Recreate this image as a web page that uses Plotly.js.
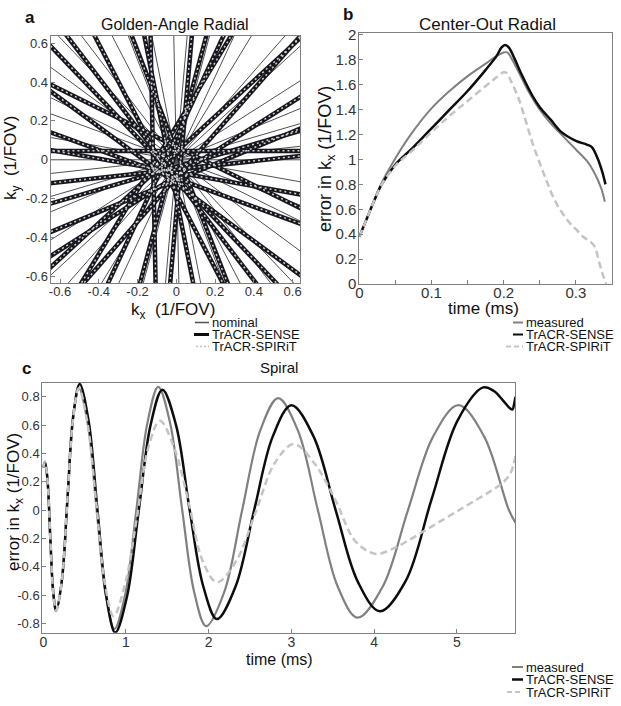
<!DOCTYPE html>
<html><head><meta charset="utf-8">
<script src="https://cdn.plot.ly/plotly-3.0.1.min.js"></script>
<style>html,body{margin:0;padding:0;background:#fff}#chart{width:621px;height:706px}</style>
</head><body><div id="chart"></div>
<script>
// ---------- Panel a: golden-angle radial spokes (readout angle in degrees, perpendicular offset of measured spoke in 1/FOV) ----------
const spokeAngleDeg = [0,111.25,222.49,333.74,84.98,196.23,307.48,58.72,169.97,281.21,32.46,143.71,254.95,6.20,117.44,228.69,339.94,91.18,202.43,313.67,64.92];
const senseOffset  = [0.045,-0.017,-0.030,0.060,-0.024,0.035,-0.060,0.090,0.064,-0.038,-0.070,0.100,-0.016,-0.050,0.080,0.060,-0.090,0.120,0.096,-0.065,0.050];
const spiritOffset = [0.046,-0.016,-0.030,0.061,-0.023,0.035,-0.059,0.089,0.064,-0.037,-0.069,0.099,-0.016,-0.049,0.079,0.060,-0.089,0.119,0.095,-0.064,0.050];
const kTicks = [-0.6,-0.4,-0.2,0,0.2,0.4,0.6];
const kTickText = ['-0.6','-0.4','-0.2','0','0.2','0.4','0.6'];

// ---------- Panel b: center-out radial ----------
const radialTimeMeasured = [0,0.01,0.02,0.03,0.05,0.07,0.1,0.125,0.15,0.175,0.19,0.2,0.205,0.21,0.22,0.235,0.25,0.265,0.28,0.3,0.315,0.325,0.335,0.34];
const radialMeasured =     [0.38,0.52,0.66,0.80,1.01,1.19,1.41,1.55,1.67,1.77,1.83,1.86,1.86,1.82,1.71,1.54,1.40,1.29,1.20,1.08,0.99,0.90,0.77,0.66];
const radialTimeSense = [0,0.01,0.02,0.03,0.05,0.075,0.1,0.125,0.15,0.175,0.19,0.197,0.202,0.207,0.215,0.225,0.24,0.25,0.265,0.28,0.3,0.315,0.322,0.33,0.336,0.341];
const radialSense =     [0.38,0.52,0.66,0.79,0.96,1.10,1.25,1.40,1.55,1.72,1.83,1.90,1.92,1.90,1.81,1.68,1.51,1.42,1.32,1.22,1.15,1.12,1.10,1.01,0.91,0.80];
const radialTimeSpirit = [0,0.01,0.02,0.03,0.05,0.075,0.1,0.125,0.15,0.175,0.19,0.2,0.205,0.21,0.22,0.23,0.24,0.25,0.26,0.27,0.28,0.29,0.3,0.31,0.32,0.326,0.332,0.337,0.342];
const radialSpirit =     [0.38,0.52,0.66,0.79,0.95,1.08,1.22,1.35,1.47,1.59,1.66,1.70,1.69,1.63,1.50,1.32,1.13,0.97,0.82,0.68,0.58,0.50,0.44,0.38,0.34,0.30,0.18,0.08,0.0];
const radialXTicks = [0,0.1,0.2,0.3];
const radialXTickText = ['0','0.1','0.2','0.3'];
const radialXMinor = [0.05,0.15,0.25,0.35];
const radialYTicks = [0,0.2,0.4,0.6,0.8,1,1.2,1.4,1.6,1.8,2];
const radialYTickText = ['0','0.2','0.4','0.6','0.8','1','1.2','1.4','1.6','1.8','2'];

// ---------- Panel c: spiral ----------
const spiralTimeMeasured = [0,0.02,0.05,0.085,0.12,0.155,0.224,0.2925,0.361,0.43,0.537,0.645,0.752,0.86,0.9925,1.125,1.2575,1.39,1.535,1.68,1.825,1.97,2.1875,2.405,2.6225,2.84,3.08,3.32,3.56,3.80,4.105,4.41,4.715,5.02,5.33,5.63,5.71];
const spiralMeasured =     [0.30,0.34,0.22,-0.20,-0.58,-0.71,-0.50,0.075,0.65,0.86,0.61,0.0,-0.59,-0.84,-0.59,0.0,0.61,0.87,0.61,0.0,-0.58,-0.82,-0.58,0.0,0.56,0.79,0.56,0.0,-0.54,-0.76,-0.54,0.0,0.52,0.74,0.52,0.0,-0.09];
const spiralTimeSense = [0,0.02,0.05,0.085,0.12,0.155,0.224,0.2925,0.361,0.44,0.5475,0.655,0.7625,0.87,1.0125,1.155,1.2975,1.44,1.605,1.77,1.935,2.1,2.325,2.55,2.775,3.0,3.2675,3.535,3.8025,4.07,4.3825,4.695,5.0075,5.32,5.45,5.55,5.64,5.675,5.69,5.71];
const spiralSense =     [0.30,0.34,0.22,-0.20,-0.58,-0.71,-0.50,0.08,0.66,0.89,0.63,0.0,-0.61,-0.865,-0.61,0.0,0.60,0.85,0.60,0.0,-0.54,-0.77,-0.54,0.0,0.52,0.74,0.52,0.0,-0.505,-0.715,-0.50,0.075,0.63,0.866,0.84,0.78,0.72,0.71,0.74,0.80];
const spiralTimeSpirit = [0,0.02,0.05,0.085,0.12,0.155,0.224,0.2925,0.361,0.43,0.535,0.64,0.745,0.85,0.99,1.13,1.27,1.41,1.5825,1.755,1.9275,2.1,2.3325,2.565,2.7975,3.03,3.2775,3.525,3.7725,4.02,4.2,4.4,4.6,4.8,5.0,5.2,5.4,5.55,5.65,5.71];
const spiralSpirit =     [0.30,0.34,0.22,-0.20,-0.58,-0.71,-0.50,0.08,0.65,0.86,0.61,0.05,-0.52,-0.75,-0.52,-0.06,0.44,0.63,0.44,0.06,-0.36,-0.51,-0.36,-0.02,0.33,0.466,0.33,0.08,-0.22,-0.31,-0.28,-0.22,-0.15,-0.08,-0.01,0.06,0.13,0.19,0.26,0.38];
const spiralXTicks = [0,1,2,3,4,5];
const spiralXTickText = ['0','1','2','3','4','5'];
const spiralYTicks = [-0.8,-0.6,-0.4,-0.2,0,0.2,0.4,0.6,0.8];
const spiralYTickText = ['-0.8','-0.6','-0.4','-0.2','0','0.2','0.4','0.6','0.8'];

// ---------- build spoke polylines ----------
function spokes(angles, offsets) {
  const xs = [], ys = [];
  for (let i = 0; i < angles.length; i++) {
    const th = angles[i] * Math.PI / 180;
    const ux = Math.cos(th), uy = Math.sin(th);
    const nx = -uy, ny = ux;
    const d = offsets ? offsets[i] : 0;
    xs.push(d * nx - ux, d * nx + ux, null);
    ys.push(d * ny - uy, d * ny + uy, null);
  }
  return {x: xs, y: ys};
}
const nom = spokes(spokeAngleDeg, null);
const sen = spokes(spokeAngleDeg, senseOffset);
const spi = spokes(spokeAngleDeg, spiritOffset);

const GRAY = '#808080', BLACK = '#0d0d0d', LIGHT = '#c4c4c4';
const traces = [
  {x: nom.x, y: nom.y, mode: 'lines', line: {color: '#505050', width: 1}, xaxis: 'x', yaxis: 'y', name: 'nominal'},
  {x: sen.x, y: sen.y, mode: 'lines', line: {color: '#17171f', width: 4.5}, xaxis: 'x', yaxis: 'y', name: 'TrACR-SENSE'},
  {x: spi.x, y: spi.y, mode: 'lines', line: {color: '#cfcfcf', width: 1.5, dash: '2px,3px'}, xaxis: 'x', yaxis: 'y', name: 'TrACR-SPIRiT'},

  {x: radialTimeMeasured, y: radialMeasured, mode: 'lines', line: {color: GRAY, width: 2, shape: 'spline'}, xaxis: 'x2', yaxis: 'y2', name: 'measured'},
  {x: radialTimeSense, y: radialSense, mode: 'lines', line: {color: BLACK, width: 2.5, shape: 'spline'}, xaxis: 'x2', yaxis: 'y2', name: 'TrACR-SENSE'},
  {x: radialTimeSpirit, y: radialSpirit, mode: 'lines', line: {color: LIGHT, width: 2.5, dash: '7px,4px', shape: 'spline'}, xaxis: 'x2', yaxis: 'y2', name: 'TrACR-SPIRiT'},

  {x: spiralTimeMeasured, y: spiralMeasured, mode: 'lines', line: {color: GRAY, width: 2.2, shape: 'spline'}, xaxis: 'x3', yaxis: 'y3', name: 'measured'},
  {x: spiralTimeSense, y: spiralSense, mode: 'lines', line: {color: BLACK, width: 2.5, shape: 'spline'}, xaxis: 'x3', yaxis: 'y3', name: 'TrACR-SENSE'},
  {x: spiralTimeSpirit, y: spiralSpirit, mode: 'lines', line: {color: LIGHT, width: 2.5, dash: '7px,4px', shape: 'spline'}, xaxis: 'x3', yaxis: 'y3', name: 'TrACR-SPIRiT'}
];

const W = 621, H = 706;
const px = v => v / W, py = v => 1 - v / H;
const FONT = 'Liberation Sans, Arial, sans-serif';

function axis(extra, fs) {
  return Object.assign({
    showline: true, linecolor: GRAY, linewidth: 1, mirror: true,
    ticks: 'inside', ticklen: 4, tickcolor: GRAY, tickwidth: 1,
    showgrid: false, zeroline: false, tickmode: 'array',
    tickfont: {family: FONT, size: fs, color: '#333'}
  }, extra);
}

const annotations = [];
function txt(text, x, y, size, opts) {
  annotations.push(Object.assign({
    text: text, xref: 'paper', yref: 'paper', x: px(x), y: py(y),
    xanchor: 'center', yanchor: 'middle', showarrow: false,
    font: {family: FONT, size: size, color: '#111'}
  }, opts || {}));
}
// panel labels and titles
txt('<b>a</b>', 30, 17, 17);
txt('<b>b</b>', 348, 14, 17);
txt('<b>c</b>', 26, 369, 17);
txt('Golden-Angle Radial', 175, 24, 16);
txt('Center-Out Radial', 487, 24, 17);
txt('Spiral', 279, 367, 15);
// axis titles
txt('k<sub>x</sub>  (1/FOV)', 173, 311, 17);
txt('k<sub>y</sub>  (1/FOV)', 12, 158, 17, {textangle: -90});
txt('time (ms)', 483, 308.5, 17);
txt('error in k<sub>x</sub> (1/FOV)', 326, 159, 18, {textangle: -90});
txt('time (ms)', 279, 659, 16);
txt('error in k<sub>x</sub> (1/FOV)', 15, 502, 17, {textangle: -90});

// legends (drawn manually)
const shapes = [];
function legendRow(x0, x1, y, label, line) {
  shapes.push({type: 'line', xref: 'paper', yref: 'paper', x0: px(x0), x1: px(x1), y0: py(y), y1: py(y), line: line});
  txt(label, x1 + 1, y, 13, {xanchor: 'left'});
}
legendRow(195, 209, 322.5, 'nominal', {color: '#505050', width: 1.5});
legendRow(194, 209, 334.5, 'TrACR-SENSE', {color: BLACK, width: 3});
legendRow(196, 209, 346.5, 'TrACR-SPIRiT', {color: LIGHT, width: 1.5, dash: '2px,2px'});

legendRow(513, 523, 322.5, 'measured', {color: GRAY, width: 2});
legendRow(513, 523, 334.5, 'TrACR-SENSE', {color: BLACK, width: 2});
legendRow(506, 523, 346.5, 'TrACR-SPIRiT', {color: LIGHT, width: 2, dash: '5px,3px'});

legendRow(512, 523, 667, 'measured', {color: GRAY, width: 2});
legendRow(512, 523, 679.5, 'TrACR-SENSE', {color: BLACK, width: 2.5});
legendRow(507, 523, 692, 'TrACR-SPIRiT', {color: LIGHT, width: 2, dash: '5px,3px'});

const layout = {
  width: W, height: H, margin: {l: 0, r: 0, t: 0, b: 0},
  paper_bgcolor: '#fff', plot_bgcolor: '#fff', showlegend: false,
  font: {family: FONT, color: '#111'},
  xaxis: axis({domain: [px(50.7), px(300)], range: [-0.648, 0.638], anchor: 'y', tickvals: kTicks, ticktext: kTickText, ticklabelstandoff: -4}, 13),
  yaxis: axis({domain: [py(283), py(36)], range: [-0.634, 0.637], anchor: 'x', tickvals: kTicks, ticktext: kTickText, ticklabelstandoff: -1}, 13),
  xaxis2: axis({domain: [px(359.3), px(612.3)], range: [0, 0.3504], anchor: 'y2', tickvals: radialXTicks, ticktext: radialXTickText, ticklabelstandoff: -5,
    minor: {tickvals: radialXMinor, ticks: 'inside', ticklen: 4, tickcolor: GRAY}}, 15),
  yaxis2: axis({domain: [py(284), py(33)], range: [0, 2.016], anchor: 'x2', tickvals: radialYTicks, ticktext: radialYTickText, ticklabelstandoff: -1}, 15),
  xaxis3: axis({domain: [px(42.3), px(515)], range: [-0.012, 5.704], anchor: 'y3', tickvals: spiralXTicks, ticktext: spiralXTickText, ticklabelstandoff: -4}, 14),
  yaxis3: axis({domain: [py(632.7), py(382.7)], range: [-0.866, 0.899], anchor: 'x3', tickvals: spiralYTicks, ticktext: spiralYTickText, ticklabelstandoff: -1}, 13),
  annotations: annotations, shapes: shapes
};

Plotly.newPlot('chart', traces, layout, {staticPlot: true, displayModeBar: false});
</script></body></html>
